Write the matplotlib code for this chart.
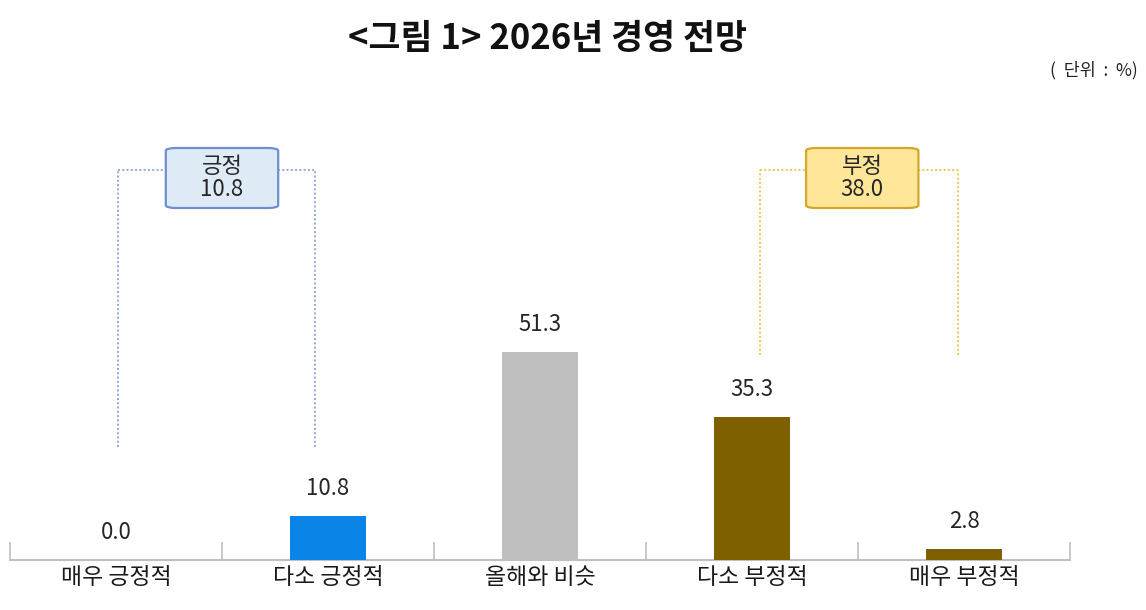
import matplotlib
matplotlib.use("Agg")
import matplotlib.pyplot as plt
from matplotlib.patches import FancyBboxPatch

plt.rcParams['font.family'] = ['Noto Sans CJK KR', 'DejaVu Sans']

# data
categories = ["매우 긍정적", "다소 긍정적", "올해와 비슷", "다소 부정적", "매우 부정적"]
values = [0.0, 10.8, 51.3, 35.3, 2.8]
bar_colors = ["#0A84E6", "#0A84E6", "#BFBFBF", "#7F6000", "#7F6000"]
pos_label, pos_total = "긍정", 10.8
neg_label, neg_total = "부정", 38.0

fig = plt.figure(figsize=(11.46, 6.10), dpi=100)
W, H = 1146, 610
# axes spans baseline y=560px up to y=100px
ax = fig.add_axes([10 / W, (H - 560) / H, 1060 / W, 460 / H])
px = 4.055  # pixels per % unit
ax.set_xlim(-0.5, 4.5)
ax.set_ylim(0, 460 / px)

x = list(range(len(categories)))
ax.bar(x, values, width=0.36, color=bar_colors, zorder=3)
for xi, v in zip(x, values):
    ax.text(xi, v + 16 / px, f"{v:.1f}", ha="center", va="bottom",
            fontsize=16, color="#262626")

# axis styling
for s in ["top", "right", "left"]:
    ax.spines[s].set_visible(False)
ax.spines["bottom"].set_color("#BFBFBF")
ax.spines["bottom"].set_linewidth(1.5)
ax.set_yticks([])
ax.set_xticks([i - 0.5 for i in range(len(categories) + 1)], minor=False)
ax.set_xticklabels([])
ax.tick_params(axis="x", direction="in", length=13, width=1.2, color="#BFBFBF")
for xi, c in zip(x, categories):
    ax.text(xi, -6 / px, c, ha="center", va="top", fontsize=16.5, color="#1a1a1a",
            clip_on=False)


def bracket(x0, x1, y_low, y_top, box_cx, box_w, fill, edge, line_col, label, total):
    y_lo = (560 - y_low) / px
    y_hi = (560 - y_top) / px
    half = box_w / 2
    kw = dict(color=line_col, linestyle=(0, (1, 1.2)), linewidth=1.4, zorder=2)
    ax.plot([x0, x0], [y_lo, y_hi], **kw)
    ax.plot([x1, x1], [y_lo, y_hi], **kw)
    ax.plot([x0, box_cx - half], [y_hi, y_hi], **kw)
    ax.plot([box_cx + half, x1], [y_hi, y_hi], **kw)
    b_top = (560 - 148) / px
    b_bot = (560 - 208) / px
    box = FancyBboxPatch((box_cx - half, b_bot), box_w, b_top - b_bot,
                         boxstyle="round,pad=0,rounding_size=0.05",
                         mutation_aspect=14,
                         facecolor=fill, edgecolor=edge, linewidth=1.6, zorder=4)
    ax.add_patch(box)
    ax.text(box_cx, (b_top + b_bot) / 2, f"{label}\n{total:.1f}", ha="center",
            va="center", fontsize=16, color="#262626", linespacing=1.0, zorder=5)


bracket(0.01, 0.94, 447, 170, 0.5, 0.53, "#DEEBF7", "#6F8FD0", "#8FAADC",
        pos_label, pos_total)
bracket(3.04, 3.97, 355, 170, 3.52, 0.53, "#FFE699", "#D4A72C", "#EEC55A",
        neg_label, neg_total)

fig.text(548 / W, 1 - 38 / H, "<그림 1> 2026년 경영 전망", ha="center", va="center",
         fontsize=25, fontweight="bold", color="#111111")
fig.text(1138 / W, 1 - 70 / H, "(  단위  :  %)", ha="right", va="center",
         fontsize=12.5, color="#222222")

fig.savefig("out.png", dpi=100)
